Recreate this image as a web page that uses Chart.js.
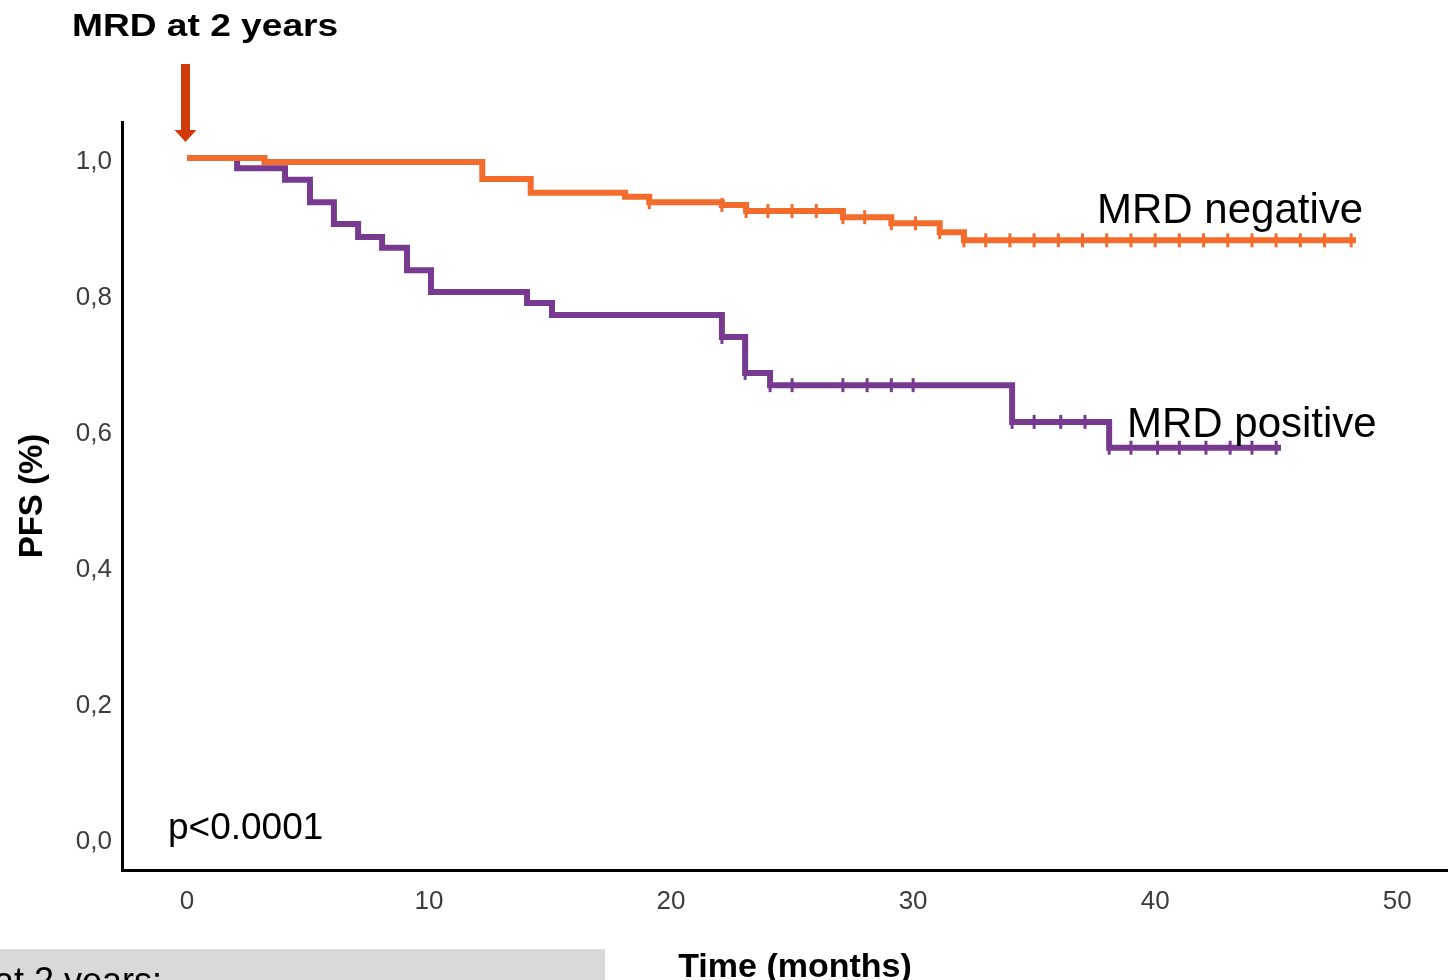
<!DOCTYPE html>
<html>
<head>
<meta charset="utf-8">
<script src="https://cdn.jsdelivr.net/npm/chart.js@4.4.1/dist/chart.umd.min.js"></script>
<style>
  html, body { margin: 0; padding: 0; background: #fff; }
  #wrap { position: relative; width: 1448px; height: 980px; overflow: hidden; }
</style>
</head>
<body>
<div id="wrap"><canvas id="kmChart" width="1448" height="980"></canvas></div>
<script>
// MRD negative (orange): time of each step (months) and PFS after the step
const negTimes = [0, 3.2, 12.2, 14.2, 18.1, 19.1, 22.1, 23.1, 27.1, 29.1, 31.1, 32.1, 48.3];
const negSurv = [1.0, 0.994, 0.969, 0.949, 0.943, 0.935, 0.931, 0.922, 0.913, 0.904, 0.891, 0.879, 0.879];
const negCensored = [19.1, 22.1, 23.1, 24, 25, 26, 27.1, 28, 29.1, 30.1, 31.1, 32.1,
  33, 34, 35, 36, 37, 38, 39, 40, 41, 42, 43, 44, 45, 46, 47, 48.1];

// MRD positive (purple)
const posTimes = [0, 2.07, 4.05, 5.08, 6.07, 7.07, 8.06, 9.09, 10.08, 14.05, 15.08, 22.1, 23.06, 24.09, 34.09, 38.1, 45.2];
const posSurv = [1.0, 0.985, 0.968, 0.935, 0.903, 0.884, 0.868, 0.835, 0.803, 0.787, 0.769, 0.737, 0.684, 0.666, 0.612, 0.574, 0.574];
const posCensored = [22.1, 23.06, 24.09, 25, 27.1, 28.1, 29.1, 30, 34.09, 35, 36.1, 37.1,
  38.1, 39, 40.1, 41, 42.1, 43.1, 44, 45];

const xTicks = [0, 10, 20, 30, 40, 50];
const yTicks = [0, 0.2, 0.4, 0.6, 0.8, 1.0];

const ORANGE = "#f36c2c";
const PURPLE = "#783a90";
const FONT = "'Liberation Sans', Arial, sans-serif";

// step curve points
const toPoints = (times, surv) => times.map((t, i) => ({ x: t, y: surv[i] }));

// PFS value of a curve at time t (value after the last step at or before t)
const survAt = (times, surv, t) => {
  let v = surv[0];
  times.forEach((tt, i) => {
    if (tt <= t + 1e-9) v = surv[i];
  });
  return v;
};

const censorPoints = (cens, times, surv) =>
  cens.map((t) => ({ x: t, y: survAt(times, surv, t) }));

const stepDataset = (points, color) => ({
  data: points,
  borderColor: color,
  borderWidth: 6,
  stepped: "before",
  pointRadius: 0,
  fill: false,
});

const censorDataset = (points, color) => ({
  type: "scatter",
  data: points,
  showLine: false,
  pointStyle: "line",
  rotation: 90,
  pointRadius: 7,
  pointBorderWidth: 3,
  borderColor: color,
  backgroundColor: color,
});

// texts, arrow and the grey box
const annotations = {
  id: "annotations",
  afterDraw(chart) {
    const { ctx } = chart;
    const x0 = chart.scales.x.getPixelForValue(0);
    ctx.save();

    // title, slightly wide like the original
    ctx.fillStyle = "#000";
    ctx.textBaseline = "alphabetic";
    ctx.save();
    ctx.translate(72, 36);
    ctx.scale(1.16, 1);
    ctx.font = "bold 32px " + FONT;
    ctx.fillText("MRD at 2 years", 0, 0);
    ctx.restore();

    // arrow pointing at time 0
    const ax = x0 - 1.5;
    ctx.fillStyle = "#d0390b";
    ctx.fillRect(ax - 4.5, 64, 9, 68);
    ctx.beginPath();
    ctx.moveTo(ax - 11, 130);
    ctx.lineTo(ax + 11, 130);
    ctx.lineTo(ax, 142);
    ctx.closePath();
    ctx.fill();

    ctx.fillStyle = "#000";
    ctx.font = "42px " + FONT;
    ctx.fillText("MRD negative", 1097, 223);
    ctx.fillText("MRD positive", 1127, 437);
    ctx.font = "37px " + FONT;
    ctx.fillText("p<0.0001", 168, 839);

    // x axis title
    ctx.font = "bold 34px " + FONT;
    ctx.textAlign = "center";
    ctx.fillText("Time (months)", 795, 977);

    ctx.textAlign = "left";
    ctx.fillStyle = "#d9d9d9";
    ctx.fillRect(0, 949, 605, 31);
    ctx.fillStyle = "#000";
    ctx.font = "36px " + FONT;
    ctx.fillText("at 2 years:", -6, 993);
    ctx.restore();
  },
};

new Chart(document.getElementById("kmChart"), {
  type: "line",
  data: {
    datasets: [
      stepDataset(toPoints(negTimes, negSurv), ORANGE),
      censorDataset(censorPoints(negCensored, negTimes, negSurv), ORANGE),
      stepDataset(toPoints(posTimes, posSurv), PURPLE),
      censorDataset(censorPoints(posCensored, posTimes, posSurv), PURPLE),
    ],
  },
  options: {
    responsive: false,
    devicePixelRatio: 1,
    animation: false,
    layout: { autoPadding: false, padding: { top: 122, right: 0, bottom: 0, left: 0 } },
    plugins: { legend: { display: false }, tooltip: { enabled: false } },
    scales: {
      x: {
        type: "linear",
        min: -2.686,
        max: 52.1,
        afterBuildTicks: (scale) => {
          scale.ticks = xTicks.map((v) => ({ value: v }));
        },
        afterFit: (scale) => {
          scale.height = 110;
          scale.paddingLeft = 0;
          scale.paddingRight = 0;
        },
        grid: { display: false, drawTicks: false },
        border: { display: true, color: "#000", width: 3 },
        ticks: {
          padding: 16,
          color: "#3c3c3c",
          font: { family: FONT, size: 26 },
          callback: (v) => String(v),
        },
      },
      y: {
        type: "linear",
        min: -0.047,
        max: 1.053,
        afterBuildTicks: (scale) => {
          scale.ticks = yTicks.map((v) => ({ value: v }));
        },
        afterFit: (scale) => {
          scale.width = 122;
        },
        grid: { display: false, drawTicks: false },
        border: { display: true, color: "#000", width: 3 },
        ticks: {
          padding: 10,
          labelOffset: 4,
          color: "#3c3c3c",
          font: { family: FONT, size: 26 },
          callback: (v) => v.toFixed(1).replace(".", ","),
        },
        title: {
          display: true,
          text: "PFS (%)",
          color: "#000",
          font: { family: FONT, size: 33, weight: "bold", lineHeight: 1 },
          padding: { top: 16, bottom: 0 },
        },
      },
    },
  },
  plugins: [annotations],
});
</script>
</body>
</html>
